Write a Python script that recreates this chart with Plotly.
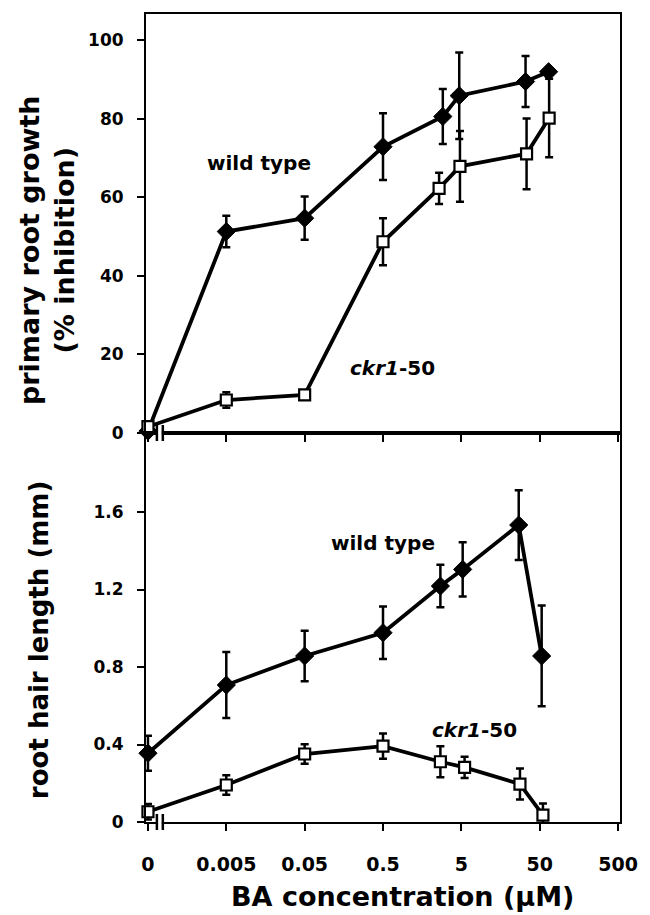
import plotly.graph_objects as go
from plotly.subplots import make_subplots

# ---------------- data ----------------
# BA concentration (uM); 0 is drawn at the axis position ZERO_POS
top_wt_x = [0, 0.005, 0.05, 0.5, 2.9, 4.7, 33, 65]
top_wt_y = [0.5, 51.3, 54.7, 72.9, 80.6, 85.9, 89.5, 92.0]
top_wt_err = [0, 4, 5.5, 8.5, 7, 11, 6.5, 0]

top_ckr_x = [0, 0.005, 0.05, 0.5, 2.6, 4.8, 34, 66]
top_ckr_y = [1.6, 8.4, 9.7, 48.7, 62.3, 67.9, 71.1, 80.2]
top_ckr_err = [1, 2, 1, 6, 4, 9, 9, 10]

bot_wt_x = [0, 0.005, 0.05, 0.5, 2.7, 5.2, 27, 53]
bot_wt_y = [0.355, 0.707, 0.857, 0.977, 1.218, 1.304, 1.533, 0.857]
bot_wt_err = [0.09, 0.17, 0.13, 0.135, 0.11, 0.14, 0.18, 0.26]

bot_ckr_x = [0, 0.005, 0.05, 0.5, 2.7, 5.5, 28, 55]
bot_ckr_y = [0.053, 0.191, 0.351, 0.392, 0.311, 0.282, 0.196, 0.036]
bot_ckr_err = [0.04, 0.05, 0.05, 0.065, 0.08, 0.055, 0.08, 0.06]

x_tick_vals = [0, 0.005, 0.05, 0.5, 5, 50, 500]
x_tick_text = ["0", "0.005", "0.05", "0.5", "5", "50", "500"]
top_y_ticks = [0, 20, 40, 60, 80, 100]
top_y_text = ["0", "20", "40", "60", "80", "100"]
bot_y_ticks = [0, 0.4, 0.8, 1.2, 1.6]
bot_y_text = ["0", "0.4", "0.8", "1.2", "1.6"]

ZERO_POS = 0.0005  # log-axis position used for the zero concentration


def pos(xs):
    return [ZERO_POS if v == 0 else v for v in xs]


FONT = "DejaVu Sans"
BLACK = "black"

fig = make_subplots(rows=2, cols=1, shared_xaxes=True, vertical_spacing=0,
                    row_heights=[419, 389])


def add_series(xs, ys, errs, row, filled):
    if filled:
        marker = dict(symbol="diamond", size=14, color=BLACK,
                      line=dict(color=BLACK, width=1))
    else:
        marker = dict(symbol="square", size=11, color="white",
                      line=dict(color=BLACK, width=2.2))
    fig.add_trace(go.Scatter(
        x=pos(xs), y=ys, mode="lines+markers",
        line=dict(color=BLACK, width=3.8),
        marker=marker,
        error_y=dict(type="data", array=errs, visible=True,
                     color=BLACK, thickness=2.5, width=4),
        cliponaxis=False, showlegend=False,
    ), row=row, col=1)


add_series(top_wt_x, top_wt_y, top_wt_err, 1, True)
add_series(top_ckr_x, top_ckr_y, top_ckr_err, 1, False)
add_series(bot_wt_x, bot_wt_y, bot_wt_err, 2, True)
add_series(bot_ckr_x, bot_ckr_y, bot_ckr_err, 2, False)

axis_common = dict(showline=True, linecolor=BLACK, linewidth=2, mirror=True,
                   showgrid=False, zeroline=False, ticks="outside",
                   tickcolor=BLACK, tickwidth=2, ticklen=7)

xr = [-3.326, 2.724]
fig.update_xaxes(type="log", range=xr, tickvals=pos(x_tick_vals),
                 ticktext=x_tick_text, **axis_common)
fig.update_xaxes(showticklabels=False, row=1, col=1)
fig.update_xaxes(tickfont=dict(family=FONT, size=19, color=BLACK, weight="bold"),
                 ticklabelstandoff=17, row=2, col=1)

fig.update_yaxes(range=[0, 106.7], tickvals=top_y_ticks, ticktext=top_y_text,
                 tickfont=dict(family=FONT, size=17, color=BLACK, weight="bold"),
                 ticklabelstandoff=10, row=1, col=1, **axis_common)
fig.update_yaxes(range=[0, 2.008], tickvals=bot_y_ticks, ticktext=bot_y_text,
                 tickfont=dict(family=FONT, size=17, color=BLACK, weight="bold"),
                 ticklabelstandoff=10, row=2, col=1, **axis_common)

# geometry (pixels) for paper-coordinate placement
L, R, T, B = 146, 25, 14, 93
W, H = 650, 915
PW, PH = W - L - R, H - T - B


def px(xp):
    return (xp - L) / PW


def py(yp):
    return (H - B - yp) / PH


lab = dict(family=FONT, size=20, color=BLACK, weight="bold")
annots = [
    dict(text="wild type", x=px(260), y=py(163), font=lab),
    dict(text="<i>ckr1</i>-50", x=px(395), y=py(368), font=lab),
    dict(text="wild type", x=px(386), y=py(543), font=lab),
    dict(text="<i>ckr1</i>-50", x=px(478), y=py(730), font=lab),
    dict(text="BA concentration (\u03bcM)", x=px(405), y=py(896),
         font=dict(family=FONT, size=27, color=BLACK, weight="bold")),
    dict(text="primary root growth<br>(% inhibition)", x=px(46), y=py(250),
         textangle=-90,
         font=dict(family=FONT, size=27, color=BLACK, weight="bold")),
    dict(text="root hair length (mm)", x=px(38), y=py(640), textangle=-90,
         font=dict(family=FONT, size=26, color=BLACK, weight="bold")),
]
for a in annots:
    a.update(xref="paper", yref="paper", showarrow=False,
             xanchor="center", yanchor="middle")
fig.update_layout(annotations=annots)

# axis break marks
shapes = []
for axis_y in (433, 822):
    shapes.append(dict(type="rect", xref="paper", yref="paper",
                       x0=px(158), x1=px(162), y0=py(axis_y - 3), y1=py(axis_y + 3),
                       fillcolor="white", line=dict(width=0), layer="above"))
    for xm in (157, 163):
        shapes.append(dict(type="line", xref="paper", yref="paper",
                           x0=px(xm), x1=px(xm), y0=py(axis_y - 8), y1=py(axis_y + 8),
                           line=dict(color=BLACK, width=2.5), layer="above"))
fig.update_layout(shapes=shapes)

fig.update_layout(width=W, height=H, margin=dict(l=L, r=R, t=T, b=B),
                  paper_bgcolor="white", plot_bgcolor="white",
                  showlegend=False)

fig.write_html("out.html", config={"displayModeBar": False},
               post_script="document.body.style.margin='0';"
                           "document.body.style.overflow='hidden';")
